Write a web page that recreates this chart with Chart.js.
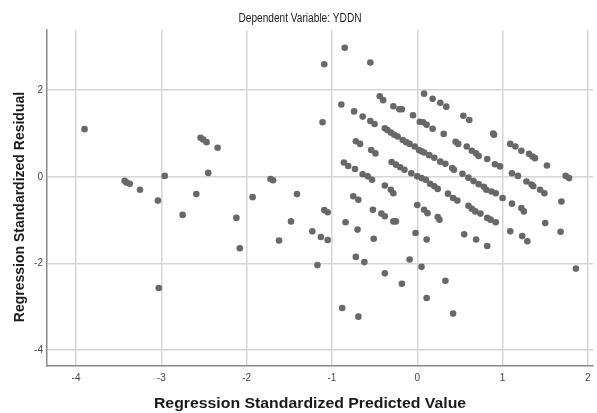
<!DOCTYPE html>
<html>
<head>
<meta charset="utf-8">
<script src="https://cdn.jsdelivr.net/npm/chart.js@4"></script>
<style>
    body { margin: 0; background: #fff; }
    canvas { display: block; }
</style>
</head>
<body>
<canvas id="residualChart" width="597" height="413"></canvas>
<script>
// standardized predicted value (x) and standardized residual (y)
const predicted = [
    -3.90, -3.43, -3.41, -3.37, -3.25, -3.04, -2.96, -3.03, -2.75, -2.59,
    -2.54, -2.51, -2.47, -2.34, -2.45, -2.12, -2.08, -1.93, -1.72, -1.69,
    -1.62, -1.48, -1.41, -1.23, -1.17, -1.13, -1.05, -1.09, -1.05, -1.11,
    -1.09, -0.85, -0.55, -0.89, -0.74, -0.64, -0.55, -0.50, -0.44, -0.40,
    -0.28, -0.21, -0.18, -0.05, 0.03, 0.07, 0.11, 0.18, 0.08, 0.18,
    0.27, 0.34, 0.54, 0.61, 0.31, 0.45, 0.48, 0.58, 0.64, 0.69,
    0.72, 0.82, 0.89, 0.90, 0.91, 0.97, 1.09, 1.15, 1.22, 1.31,
    1.35, 1.38, 1.52, 1.74, 1.78, -0.38, -0.35, -0.31, -0.27, -0.23,
    -0.17, -0.13, -0.09, -0.03, 0.02, 0.05, 0.08, 0.14, 0.20, 0.27,
    0.33, 0.41, 0.43, -0.72, -0.67, -0.54, -0.49, -0.86, -0.81, -0.73,
    -0.64, -0.58, -0.53, -0.30, -0.25, -0.20, -0.15, -0.07, 0.00, 0.05,
    0.10, 0.15, 0.20, 0.24, 0.53, 0.60, 0.66, 0.72, 0.78, 0.81,
    0.87, 0.92, 1.00, 1.11, 1.18, 1.28, 1.34, 1.36, 1.44, 1.49,
    1.69, -0.38, -0.31, -0.28, -0.75, -0.69, 0.36, 0.42, 0.47, 0.60,
    0.64, 0.68, 0.74, 0.82, 0.86, 0.92, 1.11, 1.22, 1.25, 0.00,
    0.08, 0.12, 0.24, 0.26, -0.52, -0.42, -0.38, -0.28, -0.25, -0.84,
    -0.70, -0.51, -0.02, 0.11, 0.55, 0.69, 0.82, 1.09, 1.23, 1.29,
    1.50, 1.68, 1.86, -0.72, -0.62, -0.38, -0.18, -0.09, 0.05, 0.33,
    0.11, -0.88, -0.69, 0.42
];
const residual = [
    1.10, -0.09, -0.13, -0.16, -0.30, -0.55, 0.02, -2.57, -0.88, -0.40,
    0.90, 0.86, 0.80, 0.67, 0.09, -0.95, -1.65, -0.47, -0.05, -0.08,
    -1.47, -1.03, -0.40, -1.26, -2.04, -1.39, -1.46, -0.77, -0.82, 1.26,
    2.60, 2.98, 2.64, 1.67, 1.51, 1.39, 1.29, 1.22, 1.86, 1.77,
    1.63, 1.56, 1.56, 1.42, 1.27, 1.26, 1.20, 1.11, 1.92, 1.80,
    1.71, 1.62, 1.41, 1.31, 0.99, 0.81, 0.76, 0.70, 0.60, 0.54,
    0.48, 0.41, 1.00, 0.97, 0.29, 0.24, 0.76, 0.70, 0.60, 0.53,
    0.47, 0.43, 0.26, 0.02, -0.03, 1.12, 1.08, 1.02, 0.97, 0.93,
    0.85, 0.80, 0.76, 0.70, 0.62, 0.59, 0.56, 0.50, 0.44, 0.35,
    0.30, 0.20, 0.16, 0.82, 0.76, 0.62, 0.54, 0.33, 0.25, 0.18,
    0.06, 0.01, -0.07, 0.34, 0.28, 0.22, 0.16, 0.08, 0.01, -0.03,
    -0.07, -0.16, -0.22, -0.28, 0.07, -0.02, -0.10, -0.17, -0.23, -0.30,
    -0.34, -0.38, -0.49, 0.08, 0.02, -0.11, -0.18, -0.22, -0.30, -0.38,
    -0.57, -0.20, -0.30, -0.38, -0.45, -0.53, -0.39, -0.49, -0.55, -0.67,
    -0.74, -0.80, -0.85, -0.95, -0.99, -1.05, -0.62, -0.72, -0.80, -0.65,
    -0.76, -0.84, -0.93, -0.99, -0.76, -0.85, -0.91, -1.03, -1.03, -1.05,
    -1.22, -1.43, -1.30, -1.45, -1.33, -1.45, -1.60, -1.26, -1.37, -1.49,
    -1.07, -1.27, -2.12, -1.85, -1.97, -2.23, -2.47, -1.91, -2.08, -2.40,
    -2.80, -3.03, -3.23, -3.16
];
const xTicks = [-4, -3, -2, -1, 0, 1, 2];
const yTicks = [-4, -2, 0, 2];

const chartTitle = "Dependent Variable: YDDN";
const xTitle = "Regression Standardized Predicted Value";
const yTitle = "Regression Standardized Residual";

const points = predicted.map((x, i) => ({ x: x, y: residual[i] }));

function drawLabel(ctx, text, x, y, font, stretch, angle) {
    ctx.save();
    ctx.font = font;
    ctx.translate(x, y);
    ctx.rotate(angle);
    ctx.scale(stretch, 1);
    ctx.fillText(text, 0, 0);
    ctx.restore();
}

// titles sit on the figure, not on the plot area; the main one is a narrow face
const figureTitles = {
    id: "figureTitles",
    afterDraw(chart) {
        const ctx = chart.ctx;
        ctx.save();
        ctx.fillStyle = "#1a1a1a";
        ctx.textAlign = "center";
        ctx.textBaseline = "middle";
        drawLabel(ctx, chartTitle, 300, 18.5, "12.5px 'Liberation Sans', Arial, sans-serif", 0.81, 0);
        drawLabel(ctx, xTitle, 310, 404, "bold 15px 'Liberation Sans', Arial, sans-serif", 1.055, 0);
        drawLabel(ctx, yTitle, 20, 207, "bold 14px 'Liberation Sans', Arial, sans-serif", 1, -Math.PI / 2);
        ctx.restore();
    }
};

const ctx = document.getElementById("residualChart").getContext("2d");
new Chart(ctx, {
    type: "scatter",
    data: {
        datasets: [{
            data: points,
            backgroundColor: "rgb(104, 104, 104)",
            borderColor: "rgb(104, 104, 104)",
            borderWidth: 0,
            pointRadius: 3.3
        }]
    },
    options: {
        responsive: false,
        animation: false,
        layout: { padding: { top: 30, left: 0, right: 0, bottom: 0 } },
        plugins: {
            legend: { display: false },
            tooltip: { enabled: false }
        },
        scales: {
            x: {
                type: "linear",
                min: -4.34,
                max: 2.06,
                afterFit: (scale) => { scale.height = 47; },
                afterBuildTicks: (scale) => { scale.ticks = xTicks.map(v => ({ value: v })); },
                ticks: {
                    color: "#444",
                    font: { family: "'Liberation Sans', Arial, sans-serif", size: 10 },
                    padding: 6,
                    maxRotation: 0
                },
                grid: { color: "#d6d6d6", lineWidth: 1.5, drawTicks: false },
                border: { display: true, color: "#8a8a8a", width: 1.5 }
            },
            y: {
                type: "linear",
                min: -4.37,
                max: 3.39,
                afterFit: (scale) => { scale.width = 47; },
                afterBuildTicks: (scale) => { scale.ticks = yTicks.map(v => ({ value: v })); },
                ticks: {
                    color: "#444",
                    font: { family: "'Liberation Sans', Arial, sans-serif", size: 10 },
                    padding: 4
                },
                grid: { color: "#d6d6d6", lineWidth: 1.5, drawTicks: false },
                border: { display: true, color: "#8a8a8a", width: 1.5 }
            }
        }
    },
    plugins: [figureTitles]
});
</script>
</body>
</html>
